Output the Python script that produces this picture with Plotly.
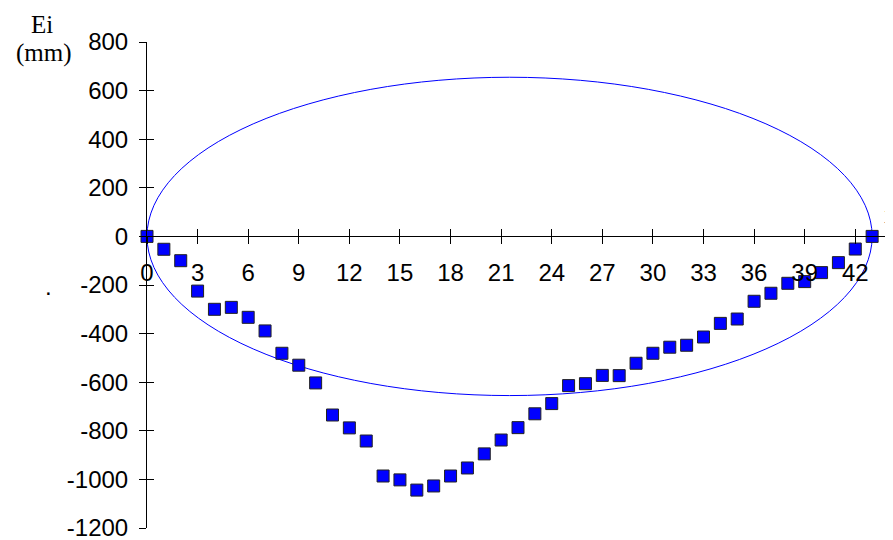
import plotly.graph_objects as go

i_vals = list(range(44))
ei_vals = [0, -53, -100, -225, -300, -292, -333, -389, -481, -530,
           -603, -735, -788, -842, -986, -1002, -1044, -1027, -986, -953,
           -895, -838, -787, -730, -688, -614, -606, -572, -573, -522,
           -481, -456, -448, -414, -358, -340, -267, -234, -193, -186,
           -149, -108, -52, 0]
x_ticks = list(range(0, 43, 3))
y_ticks = list(range(-1200, 801, 200))
y_labels = [str(v) for v in y_ticks]  # plain hyphen like the original
# ellipse drawn as a data-space shape
ell_x = [0, 43]
ell_y = [-655, 655]

fig = go.Figure()
fig.add_trace(go.Scatter(x=i_vals, y=ei_vals, mode="markers",
                         marker=dict(symbol="square", size=12, color="#0000ff",
                                     line=dict(color="#222222", width=1)),
                         cliponaxis=False, showlegend=False))
# dummy trace so the overlay axes (inner half of crossing ticks) get drawn
fig.add_trace(go.Scatter(x=[0], y=[0], xaxis="x2", yaxis="y2", mode="markers",
                         marker=dict(opacity=0), showlegend=False, hoverinfo="skip"))

fig.add_shape(type="circle", xref="x", yref="y", x0=ell_x[0], x1=ell_x[1],
              y0=ell_y[0], y1=ell_y[1], line=dict(color="#0000ff", width=1),
              layer="below")

axfont = dict(family="Liberation Sans, Arial", size=24, color="black")
serif = dict(family="Liberation Serif", size=25, color="black")
# page body has an 8px margin, so the figure is 8px smaller than the window
fig.update_layout(
    width=885, height=532, plot_bgcolor="white", paper_bgcolor="white",
    margin=dict(l=139, r=4, t=34, b=12),
    xaxis=dict(range=[0, 44], tickvals=x_ticks, ticks="outside", ticklen=7,
               tickcolor="black", showline=True, linecolor="black", showgrid=False,
               zeroline=False, anchor="free", position=0.6, tickfont=axfont,
               automargin=False, ticklabeloverflow="allow", ticklabelstandoff=8),
    yaxis=dict(range=[-1200, 800], tickvals=y_ticks, ticktext=y_labels,
               ticks="outside", ticklen=7, tickcolor="black", showline=True,
               linecolor="black", showgrid=False, zeroline=False, tickfont=axfont,
               ticklabelstandoff=6, automargin=False, ticklabeloverflow="allow"),
    xaxis2=dict(range=[0, 44], tickvals=x_ticks, ticks="inside", ticklen=7,
                tickcolor="black", showline=False, showgrid=False, zeroline=False,
                showticklabels=False, overlaying="x", anchor="free", position=0.6,
                automargin=False),
    yaxis2=dict(range=[-1200, 800], tickvals=y_ticks, ticks="inside", ticklen=7,
                tickcolor="black", showline=False, showgrid=False, zeroline=False,
                showticklabels=False, overlaying="y", anchor="x2", automargin=False),
    annotations=[
        dict(text="Ei", xref="paper", yref="paper", x=-0.1415, y=1.035,
             xanchor="center", yanchor="middle", showarrow=False, font=serif),
        dict(text="(mm)", xref="paper", yref="paper", x=-0.139, y=0.977,
             xanchor="center", yanchor="middle", showarrow=False, font=serif),
        dict(text="i", xref="paper", yref="paper", x=0.99, y=0.646,
             xanchor="left", yanchor="middle", showarrow=False, font=serif),
        dict(text=".", xref="paper", yref="paper", x=-0.133, y=0.497,
             xanchor="center", yanchor="middle", showarrow=False,
             font=dict(family="Liberation Sans", size=24, color="black")),
    ],
)

fig.write_html("out.html")
